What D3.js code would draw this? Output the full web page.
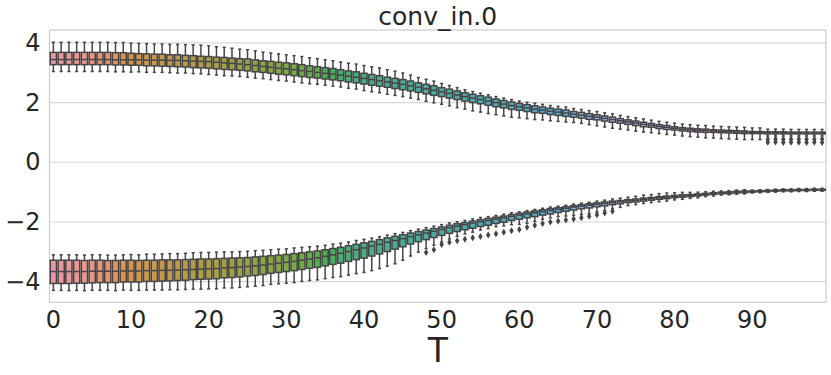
<!DOCTYPE html>
<html>
<head>
<meta charset="utf-8">
<script src="https://cdn.jsdelivr.net/npm/d3@7"></script>
<style>
  body { margin: 0; background: #fff; }
  text { font-family: "DejaVu Sans", sans-serif; fill: #262626; }
</style>
</head>
<body>
<div id="chart"></div>
<script>
var svgWidth = 831;
var svgHeight = 375;

// categories T = 0..99
var steps = d3.range(100);
var xTicks = [0, 10, 20, 30, 40, 50, 60, 70, 80, 90];
var yTicks = [-4, -2, 0, 2, 4];

// upper group (per T): whisker low, q1, median, q3, whisker high
var uMed = [
  3.44, 3.44, 3.44, 3.44, 3.44, 3.44, 3.44, 3.44, 3.43, 3.43,
  3.43, 3.43, 3.42, 3.42, 3.42, 3.41, 3.41, 3.40, 3.39, 3.38,
  3.37, 3.35, 3.33, 3.31, 3.29, 3.27, 3.24, 3.21, 3.18, 3.15,
  3.13, 3.10, 3.07, 3.04, 3.01, 2.98, 2.95, 2.92, 2.88, 2.85,
  2.81, 2.77, 2.73, 2.69, 2.65, 2.61, 2.56, 2.51, 2.46, 2.41,
  2.36, 2.31, 2.25, 2.20, 2.15, 2.10, 2.05, 2.00, 1.95, 1.90,
  1.86, 1.82, 1.78, 1.75, 1.71, 1.68, 1.65, 1.61, 1.58, 1.54,
  1.51, 1.47, 1.43, 1.39, 1.35, 1.31, 1.27, 1.24, 1.20, 1.17,
  1.14, 1.11, 1.09, 1.07, 1.06, 1.05, 1.04, 1.03, 1.02, 1.01,
  1.00, 1.00, 0.99, 0.99, 0.99, 0.98, 0.98, 0.98, 0.98, 0.98
];
var uQ3 = [
  3.68, 3.68, 3.68, 3.68, 3.68, 3.68, 3.68, 3.68, 3.67, 3.67,
  3.65, 3.64, 3.63, 3.62, 3.62, 3.60, 3.60, 3.58, 3.57, 3.55,
  3.54, 3.52, 3.51, 3.49, 3.47, 3.46, 3.43, 3.40, 3.38, 3.35,
  3.33, 3.30, 3.27, 3.23, 3.20, 3.17, 3.14, 3.10, 3.06, 3.03,
  2.98, 2.94, 2.90, 2.85, 2.81, 2.77, 2.72, 2.66, 2.61, 2.56,
  2.50, 2.45, 2.39, 2.33, 2.28, 2.23, 2.18, 2.12, 2.07, 2.02,
  1.97, 1.93, 1.89, 1.85, 1.81, 1.78, 1.75, 1.70, 1.67, 1.63,
  1.59, 1.55, 1.51, 1.46, 1.42, 1.38, 1.34, 1.30, 1.26, 1.23,
  1.19, 1.16, 1.14, 1.12, 1.11, 1.09, 1.08, 1.07, 1.06, 1.05,
  1.03, 1.03, 1.02, 1.02, 1.02, 1.01, 1.01, 1.01, 1.01, 1.01
];
var uQ1 = [
  3.27, 3.27, 3.27, 3.27, 3.27, 3.27, 3.27, 3.27, 3.26, 3.26,
  3.25, 3.25, 3.23, 3.23, 3.22, 3.21, 3.20, 3.19, 3.17, 3.16,
  3.15, 3.13, 3.11, 3.10, 3.08, 3.06, 3.03, 3.01, 2.98, 2.95,
  2.93, 2.90, 2.87, 2.84, 2.82, 2.79, 2.76, 2.73, 2.69, 2.66,
  2.62, 2.58, 2.55, 2.51, 2.47, 2.43, 2.39, 2.34, 2.29, 2.24,
  2.20, 2.15, 2.10, 2.05, 2.00, 1.96, 1.91, 1.86, 1.82, 1.77,
  1.74, 1.70, 1.66, 1.64, 1.60, 1.57, 1.54, 1.51, 1.48, 1.44,
  1.42, 1.38, 1.34, 1.31, 1.27, 1.23, 1.19, 1.17, 1.13, 1.10,
  1.08, 1.05, 1.03, 1.01, 1.00, 1.00, 0.99, 0.98, 0.97, 0.96,
  0.96, 0.96, 0.95, 0.95, 0.95, 0.95, 0.95, 0.95, 0.95, 0.95
];
var uHi = [
  4.02, 4.02, 4.02, 4.02, 4.02, 4.02, 4.02, 4.02, 4.01, 4.01,
  3.99, 3.98, 3.97, 3.96, 3.96, 3.95, 3.95, 3.94, 3.93, 3.92,
  3.90, 3.87, 3.85, 3.82, 3.79, 3.77, 3.73, 3.69, 3.66, 3.63,
  3.60, 3.57, 3.54, 3.50, 3.47, 3.43, 3.40, 3.36, 3.32, 3.29,
  3.24, 3.20, 3.16, 3.10, 3.05, 2.99, 2.92, 2.84, 2.78, 2.72,
  2.64, 2.57, 2.50, 2.43, 2.37, 2.31, 2.26, 2.20, 2.15, 2.10,
  2.05, 2.01, 1.98, 1.94, 1.90, 1.87, 1.85, 1.80, 1.77, 1.73,
  1.70, 1.66, 1.62, 1.57, 1.53, 1.49, 1.45, 1.41, 1.37, 1.34,
  1.31, 1.28, 1.26, 1.24, 1.23, 1.21, 1.20, 1.19, 1.18, 1.17,
  1.15, 1.15, 1.11, 1.11, 1.11, 1.10, 1.10, 1.10, 1.10, 1.10
];
var uLo = [
  3.04, 3.04, 3.04, 3.04, 3.04, 3.04, 3.04, 3.04, 3.03, 3.03,
  3.02, 3.03, 3.01, 3.01, 3.01, 3.00, 2.99, 2.99, 2.97, 2.96,
  2.94, 2.92, 2.90, 2.89, 2.87, 2.85, 2.82, 2.80, 2.77, 2.74,
  2.72, 2.69, 2.66, 2.63, 2.61, 2.58, 2.55, 2.52, 2.48, 2.45,
  2.40, 2.36, 2.33, 2.28, 2.24, 2.20, 2.15, 2.10, 2.04, 1.99,
  1.94, 1.89, 1.83, 1.78, 1.72, 1.68, 1.63, 1.59, 1.55, 1.51,
  1.49, 1.46, 1.43, 1.42, 1.39, 1.37, 1.35, 1.33, 1.30, 1.26,
  1.22, 1.18, 1.14, 1.11, 1.08, 1.04, 1.01, 0.99, 0.96, 0.93,
  0.91, 0.88, 0.86, 0.84, 0.82, 0.81, 0.79, 0.78, 0.77, 0.76,
  0.76, 0.76, 0.88, 0.88, 0.88, 0.88, 0.88, 0.88, 0.88, 0.88
];
// upper group outliers: [T, value]
var uFliers = [
  [92, 0.77], [92, 0.67], [93, 0.78], [93, 0.68], [94, 0.77], [94, 0.66],
  [95, 0.77], [95, 0.67], [96, 0.78], [96, 0.67], [97, 0.77], [97, 0.66],
  [98, 0.77], [98, 0.67], [99, 0.78], [99, 0.66]
];

// lower group (per T)
var lMed = [
  -3.66, -3.66, -3.66, -3.66, -3.66, -3.65, -3.65, -3.65, -3.65, -3.64,
  -3.64, -3.64, -3.63, -3.63, -3.62, -3.62, -3.61, -3.60, -3.59, -3.58,
  -3.57, -3.56, -3.54, -3.53, -3.51, -3.49, -3.47, -3.44, -3.41, -3.38,
  -3.35, -3.32, -3.28, -3.24, -3.20, -3.15, -3.10, -3.05, -2.99, -2.93,
  -2.87, -2.81, -2.75, -2.68, -2.62, -2.56, -2.49, -2.43, -2.37, -2.31,
  -2.25, -2.19, -2.14, -2.09, -2.04, -1.99, -1.95, -1.90, -1.86, -1.81,
  -1.77, -1.73, -1.69, -1.65, -1.61, -1.57, -1.54, -1.50, -1.47, -1.44,
  -1.41, -1.38, -1.35, -1.32, -1.29, -1.27, -1.24, -1.22, -1.19, -1.17,
  -1.15, -1.13, -1.11, -1.09, -1.07, -1.05, -1.03, -1.02, -1.00, -0.99,
  -0.98, -0.97, -0.96, -0.95, -0.94, -0.94, -0.93, -0.93, -0.92, -0.92
];
var lQ3 = [
  -3.28, -3.28, -3.28, -3.28, -3.29, -3.28, -3.28, -3.29, -3.29, -3.28,
  -3.28, -3.29, -3.28, -3.28, -3.27, -3.27, -3.27, -3.26, -3.25, -3.24,
  -3.24, -3.23, -3.22, -3.21, -3.20, -3.19, -3.17, -3.15, -3.13, -3.11,
  -3.09, -3.06, -3.03, -3.00, -2.97, -2.93, -2.89, -2.85, -2.80, -2.75,
  -2.70, -2.65, -2.59, -2.53, -2.48, -2.43, -2.37, -2.32, -2.27, -2.22,
  -2.17, -2.11, -2.06, -2.02, -1.97, -1.92, -1.88, -1.84, -1.80, -1.75,
  -1.71, -1.67, -1.63, -1.59, -1.55, -1.52, -1.49, -1.45, -1.42, -1.39,
  -1.36, -1.33, -1.30, -1.28, -1.25, -1.23, -1.20, -1.18, -1.15, -1.13,
  -1.11, -1.09, -1.08, -1.06, -1.04, -1.02, -1.00, -0.99, -0.97, -0.96,
  -0.96, -0.95, -0.94, -0.93, -0.92, -0.92, -0.91, -0.91, -0.90, -0.90
];
var lQ1 = [
  -4.06, -4.06, -4.06, -4.05, -4.05, -4.04, -4.03, -4.03, -4.03, -4.01,
  -4.01, -4.01, -3.99, -3.99, -3.98, -3.97, -3.96, -3.95, -3.93, -3.92,
  -3.91, -3.90, -3.87, -3.86, -3.84, -3.81, -3.79, -3.76, -3.72, -3.69,
  -3.66, -3.63, -3.59, -3.55, -3.52, -3.47, -3.42, -3.38, -3.32, -3.26,
  -3.21, -3.14, -3.07, -2.99, -2.91, -2.83, -2.74, -2.66, -2.59, -2.52,
  -2.45, -2.38, -2.32, -2.26, -2.21, -2.15, -2.11, -2.05, -2.01, -1.95,
  -1.91, -1.86, -1.82, -1.77, -1.73, -1.68, -1.64, -1.60, -1.56, -1.53,
  -1.49, -1.46, -1.42, -1.39, -1.35, -1.33, -1.30, -1.27, -1.24, -1.22,
  -1.19, -1.17, -1.15, -1.13, -1.10, -1.08, -1.06, -1.05, -1.03, -1.02,
  -1.00, -0.99, -0.98, -0.97, -0.96, -0.96, -0.95, -0.95, -0.94, -0.94
];
var lHi = [
  -3.10, -3.10, -3.10, -3.10, -3.11, -3.10, -3.10, -3.11, -3.11, -3.10,
  -3.09, -3.10, -3.08, -3.08, -3.07, -3.06, -3.06, -3.05, -3.03, -3.02,
  -3.02, -3.01, -3.00, -3.00, -2.99, -2.98, -2.96, -2.95, -2.93, -2.91,
  -2.90, -2.87, -2.85, -2.83, -2.81, -2.78, -2.74, -2.71, -2.67, -2.62,
  -2.58, -2.54, -2.49, -2.44, -2.39, -2.35, -2.29, -2.24, -2.19, -2.14,
  -2.09, -2.03, -1.99, -1.95, -1.90, -1.85, -1.82, -1.78, -1.74, -1.69,
  -1.66, -1.62, -1.58, -1.54, -1.50, -1.47, -1.44, -1.40, -1.37, -1.34,
  -1.30, -1.27, -1.23, -1.20, -1.17, -1.14, -1.10, -1.08, -1.05, -1.03,
  -1.02, -1.01, -1.01, -1.00, -0.99, -0.97, -0.96, -0.95, -0.93, -0.92,
  -0.93, -0.92, -0.91, -0.90, -0.89, -0.89, -0.88, -0.88, -0.87, -0.87
];
var lLo = [
  -4.29, -4.29, -4.30, -4.29, -4.30, -4.29, -4.29, -4.29, -4.30, -4.28,
  -4.29, -4.29, -4.28, -4.28, -4.28, -4.27, -4.27, -4.26, -4.25, -4.25,
  -4.24, -4.24, -4.21, -4.21, -4.19, -4.17, -4.15, -4.13, -4.09, -4.07,
  -4.05, -4.03, -3.99, -3.96, -3.94, -3.90, -3.86, -3.83, -3.78, -3.73,
  -3.69, -3.63, -3.56, -3.48, -3.40, -3.28, -3.14, -3.01, -2.89, -2.78,
  -2.67, -2.57, -2.48, -2.40, -2.34, -2.27, -2.22, -2.16, -2.13, -2.09,
  -2.08, -2.04, -1.98, -1.91, -1.86, -1.82, -1.80, -1.78, -1.75, -1.72,
  -1.67, -1.62, -1.56, -1.51, -1.45, -1.42, -1.38, -1.35, -1.32, -1.30,
  -1.26, -1.24, -1.21, -1.19, -1.15, -1.13, -1.10, -1.09, -1.07, -1.06,
  -1.03, -1.02, -1.01, -1.00, -0.99, -0.99, -0.98, -0.98, -0.97, -0.97
];
var lFliers = [
  [48, -3.02], [49, -2.93], [50, -2.75], [51, -2.68], [52, -2.63], [53, -2.58],
  [54, -2.53], [55, -2.49], [56, -2.44], [57, -2.39], [58, -2.34], [59, -2.29],
  [60, -2.25], [61, -2.18], [62, -2.11], [63, -2.05], [64, -2.00], [65, -1.97],
  [66, -1.93], [67, -1.90], [68, -1.86], [69, -1.81], [70, -1.76], [71, -1.70],
  [72, -1.64]
];

// --- seaborn-like husl palette (l=.7, s=.9), desaturated by .75 ---
var M = [
  [3.2406, -1.5372, -0.4986],
  [-0.9689, 1.8758, 0.0415],
  [0.0557, -0.2040, 1.0570]
];
function maxChroma(L, H) {
  var hrad = H / 180 * Math.PI, sinH = Math.sin(hrad), cosH = Math.cos(hrad);
  var sub1 = Math.pow(L + 16, 3) / 1560896;
  var sub2 = sub1 > 0.008856 ? sub1 : L / 903.3;
  var result = Infinity;
  M.forEach(function (row) {
    var m1 = row[0], m2 = row[1], m3 = row[2];
    var top = (0.99915 * m1 + 1.05122 * m2 + 1.14460 * m3) * sub2;
    var rbottom = 0.86330 * m3 - 0.17266 * m2;
    var lbottom = 0.12949 * m3 - 0.38848 * m1;
    var bottom = (rbottom * sinH + lbottom * cosH) * sub2;
    [0, 1].forEach(function (t) {
      var C = L * (top - 1.05122 * t) / (bottom + 0.17266 * sinH * t);
      if (C > 0 && C < result) result = C;
    });
  });
  return result;
}
function huslToRgb(H, S, L) {
  var C = maxChroma(L, H) / 100 * S;
  var hrad = H / 180 * Math.PI;
  var U = Math.cos(hrad) * C, V = Math.sin(hrad) * C;
  var t = (L + 16) / 116;
  var varY = Math.pow(t, 3) > 0.008856 ? Math.pow(t, 3) : (116 * t - 16) / 903.3;
  var varU = U / (13 * L) + 0.19784, varV = V / (13 * L) + 0.46834;
  var Y = varY;
  var X = -(9 * Y * varU) / ((varU - 4) * varV - varU * varV);
  var Z = (9 * Y - 15 * varV * Y - varV * X) / (3 * varV);
  return M.map(function (row) {
    var c = row[0] * X + row[1] * Y + row[2] * Z;
    c = c <= 0.0031308 ? 12.92 * c : 1.055 * Math.pow(c, 1 / 2.4) - 0.055;
    return Math.max(0, Math.min(1, c));
  });
}
var palette = steps.map(function (i) {
  var h = ((i / steps.length + 0.01) % 1) * 359;
  var rgb = huslToRgb(h, 0.9 * 99, 0.7 * 99);
  var c = d3.hsl(d3.rgb(rgb[0] * 255, rgb[1] * 255, rgb[2] * 255));
  c.s *= 0.75;
  return c.rgb();
});
var minLight = d3.min(palette, function (c) {
  var mx = Math.max(c.r, c.g, c.b) / 255, mn = Math.min(c.r, c.g, c.b) / 255;
  return (mx + mn) / 2;
});
var lum = Math.round(minLight * 0.6 * 255);
var gray = d3.rgb(lum, lum, lum).formatHex();

// --- chart ---
var plot = { left: 49.5, right: 826, top: 30, bottom: 302.3 };

var svg = d3.select("#chart")
    .append("svg")
    .attr("width", svgWidth)
    .attr("height", svgHeight);

var x = d3.scaleBand()
    .domain(steps)
    .range([plot.left, plot.right])
    .padding(0);

var y = d3.scaleLinear()
    .domain([-4.69, 4.43])
    .range([plot.bottom, plot.top]);

// grid
svg.append("g")
    .selectAll("line")
    .data(yTicks)
    .enter()
    .append("line")
    .attr("x1", plot.left)
    .attr("x2", plot.right)
    .attr("y1", d => y(d))
    .attr("y2", d => y(d))
    .attr("stroke", "#d6d6d6")
    .attr("stroke-width", 1.2);

// frame
svg.append("rect")
    .attr("x", plot.left)
    .attr("y", plot.top)
    .attr("width", plot.right - plot.left)
    .attr("height", plot.bottom - plot.top)
    .attr("fill", "none")
    .attr("stroke", "#cccccc")
    .attr("stroke-width", 1.2);

var bw = x.bandwidth() * 0.8;
var cx = d => x(d) + x.bandwidth() / 2;

function drawGroup(lo, q1, med, q3, hi, fliers) {
    var g = svg.append("g");
    var boxes = g.selectAll("g")
        .data(steps)
        .enter()
        .append("g");

    // whiskers
    boxes.append("line")
        .attr("x1", cx).attr("x2", cx)
        .attr("y1", d => y(hi[d])).attr("y2", d => y(q3[d]))
        .attr("stroke", gray).attr("stroke-width", 1.5);
    boxes.append("line")
        .attr("x1", cx).attr("x2", cx)
        .attr("y1", d => y(q1[d])).attr("y2", d => y(lo[d]))
        .attr("stroke", gray).attr("stroke-width", 1.5);
    // caps
    boxes.append("line")
        .attr("x1", d => cx(d) - bw / 4).attr("x2", d => cx(d) + bw / 4)
        .attr("y1", d => y(hi[d])).attr("y2", d => y(hi[d]))
        .attr("stroke", gray).attr("stroke-width", 1.5);
    boxes.append("line")
        .attr("x1", d => cx(d) - bw / 4).attr("x2", d => cx(d) + bw / 4)
        .attr("y1", d => y(lo[d])).attr("y2", d => y(lo[d]))
        .attr("stroke", gray).attr("stroke-width", 1.5);
    // box
    boxes.append("rect")
        .attr("x", d => cx(d) - bw / 2)
        .attr("width", bw)
        .attr("y", d => y(q3[d]))
        .attr("height", d => Math.max(0.1, y(q1[d]) - y(q3[d])))
        .attr("fill", d => palette[d])
        .attr("stroke", gray)
        .attr("stroke-width", 1.5);
    // median
    boxes.append("line")
        .attr("x1", d => cx(d) - bw / 2).attr("x2", d => cx(d) + bw / 2)
        .attr("y1", d => y(med[d])).attr("y2", d => y(med[d]))
        .attr("stroke", gray).attr("stroke-width", 1.5);

    // outliers (thin diamonds)
    g.selectAll("path.flier")
        .data(fliers)
        .enter()
        .append("path")
        .attr("class", "flier")
        .attr("d", d => {
            var px = cx(d[0]), py = y(d[1]);
            return `M${px},${py - 3.5}L${px + 2.2},${py}L${px},${py + 3.5}L${px - 2.2},${py}Z`;
        })
        .attr("fill", gray);
}

drawGroup(uLo, uQ1, uMed, uQ3, uHi, uFliers);
drawGroup(lLo, lQ1, lMed, lQ3, lHi, lFliers);

// axes
var bottomAxis = d3.axisBottom(x).tickValues(xTicks).tickSize(0).tickPadding(9);
var leftAxis = d3.axisLeft(y).tickValues(yTicks).tickSize(0).tickPadding(9);

var xAxisG = svg.append("g")
    .attr("transform", `translate(0, ${plot.bottom})`)
    .call(bottomAxis);
var yAxisG = svg.append("g")
    .attr("transform", `translate(${plot.left}, 0)`)
    .call(leftAxis);

[xAxisG, yAxisG].forEach(function (a) {
    a.select(".domain").remove();
    a.selectAll("text")
        .style("font-family", "'DejaVu Sans', sans-serif")
        .style("font-size", "24px")
        .attr("fill", "#262626");
});

// title and axis label
svg.append("text")
    .attr("x", (plot.left + plot.right) / 2)
    .attr("y", 25)
    .attr("text-anchor", "middle")
    .style("font-size", "25px")
    .text("conv_in.0");

svg.append("text")
    .attr("x", (plot.left + plot.right) / 2)
    .attr("y", 362)
    .attr("text-anchor", "middle")
    .style("font-size", "33px")
    .text("T");
</script>
</body>
</html>
